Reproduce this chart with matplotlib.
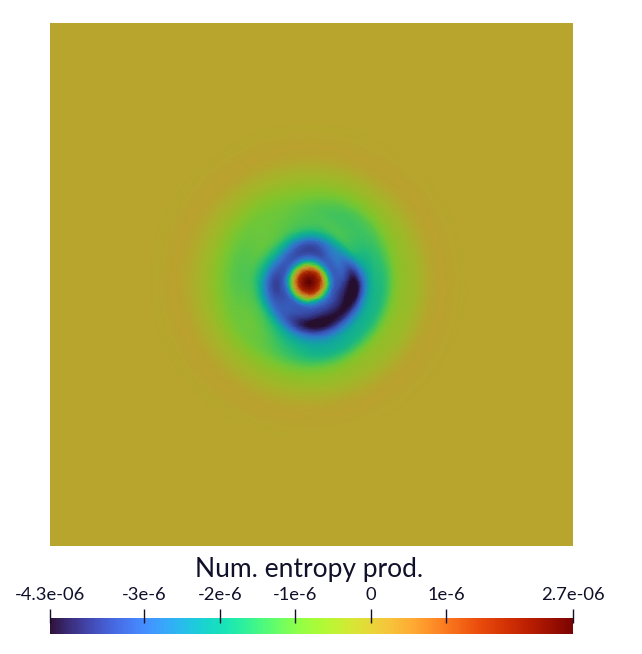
import numpy as np
import matplotlib
matplotlib.use('Agg')
import matplotlib.pyplot as plt
import matplotlib.tri as mtri
from matplotlib.colors import ListedColormap, Normalize
from matplotlib.cm import ScalarMappable

# colour bar range and labels
vmin = -4.25
vmax = 2.68
tick_vals = [-4.25, -3, -2, -1, 0, 1, 2.68]
tick_labels = ['-4.3e-06', '-3e-6', '-2e-6', '-1e-6', '0', '1e-6', '2.7e-06']
bar_title = 'Num. entropy prod.'

# field, units of 1e-6, one row per radius (pixels from
# the hot spot), one column per angle (degrees, counter clockwise from +x)
background = 0.05
radii = [0, 6, 12, 16, 20, 26, 33, 41, 50, 60, 72, 85, 100, 115, 130, 145, 165]
angles = [0, 30, 60, 90, 120, 150, 180, 210, 240, 270, 300, 330]
field = [
    [2.68, 2.68, 2.68, 2.68, 2.68, 2.68, 2.68, 2.68, 2.68, 2.68, 2.68, 2.68],
    [2.25, 2.25, 2.25, 2.25, 2.25, 2.25, 2.25, 2.25, 2.25, 2.25, 2.25, 2.25],
    [1.2, 1.2, 1.2, 1.2, 1.2, 1.2, 1.2, 1.2, 1.2, 1.2, 1.2, 1.2],
    [-0.3, -0.3, -0.3, -0.3, -0.3, -0.3, -0.3, -0.3, -0.3, -0.3, -0.3, -0.3],
    [-1.9, -1.9, -1.9, -1.9, -1.9, -1.9, -1.9, -1.9, -1.9, -1.9, -1.9, -1.9],
    [-3.2, -3.2, -3.2, -3.2, -3.2, -3.2, -3.2, -3.2, -3.2, -3.2, -3.2, -3.2],
    [-3.5, -3.0, -3.2, -3.6, -3.3, -3.2, -3.6, -3.4, -3.3, -3.6, -3.7, -3.7],
    [-4.2, -3.0, -2.7, -3.0, -2.5, -2.4, -3.0, -3.1, -3.4, -4.25, -4.25, -4.25],
    [-3.8, -2.2, -1.7, -1.8, -1.5, -1.5, -1.9, -2.0, -2.6, -3.5, -3.7, -3.8],
    [-2.2, -1.7, -1.3, -1.3, -1.1, -1.1, -1.3, -1.2, -1.7, -2.3, -2.4, -2.3],
    [-1.7, -1.5, -1.4, -1.2, -1.0, -1.1, -1.2, -1.0, -1.3, -1.8, -1.9, -1.8],
    [-0.9, -1.0, -1.1, -0.9, -0.85, -0.9, -0.9, -0.9, -0.95, -1.1, -1.0, -0.9],
    [-0.45, -0.45, -0.5, -0.45, -0.45, -0.45, -0.45, -0.45, -0.45, -0.5, -0.45, -0.45],
    [-0.15, -0.15, -0.15, -0.15, -0.15, -0.15, -0.15, -0.15, -0.15, -0.15, -0.15, -0.15],
    [0.08, 0.08, 0.08, 0.07, 0.08, 0.08, 0.07, 0.08, 0.08, 0.07, 0.08, 0.08],
    [0.05, 0.05, 0.05, 0.05, 0.05, 0.05, 0.05, 0.05, 0.05, 0.05, 0.05, 0.05],
    [0.05, 0.05, 0.05, 0.05, 0.05, 0.05, 0.05, 0.05, 0.05, 0.05, 0.05, 0.05],
]

W, H = 642, 654
fig = plt.figure(figsize=(W / 100, H / 100), dpi=100)
plt.rcParams['font.family'] = ['Lato', 'DejaVu Sans']
text_color = '#10102a'

# plot is dimmer than the bar (lighting in the renderer)
base = matplotlib.colormaps['turbo'](np.linspace(0, 1, 256))
dimmed = base.copy()
dimmed[:, :3] = dimmed[:, :3] * 0.78
plot_cmap = ListedColormap(dimmed)
norm = Normalize(vmin, vmax)

# main panel, in pixel coordinates of the figure
ax = fig.add_axes([50 / W, 1 - 546 / H, 523 / W, 523 / H])
ax.set_xlim(50, 573)
ax.set_ylim(546, 23)
ax.set_aspect('equal')
ax.set_facecolor(plot_cmap(norm(background)))
ax.set_xticks([])
ax.set_yticks([])
for s in ax.spines.values():
    s.set_visible(False)

# smooth the table in (angle, radius) space, wrapped so that 0 and 360 join,
# then bend the refined mesh round the hot spot
cx, cy = 309, 282
z = np.array(field)
wrap = 3
ang = np.array(angles, dtype=float)
ang_wrapped = np.concatenate([ang[-wrap:] - 360, ang, ang[:wrap + 1] + 360])
z_wrapped = np.concatenate([z[:, -wrap:], z, z[:, :wrap + 1]], axis=1)
aa, rr = np.meshgrid(ang_wrapped, radii)
tri = mtri.Triangulation(aa.ravel() / 3, rr.ravel())
interp = mtri.CubicTriInterpolator(tri, z_wrapped.ravel(), kind='min_E')
refiner = mtri.UniformTriRefiner(tri)
tri2, z2 = refiner.refine_field(z_wrapped.ravel(), triinterpolator=interp, subdiv=4)

a2 = np.radians(tri2.x * 3)
xs = cx + tri2.y * np.cos(a2)
ys = cy - tri2.y * np.sin(a2)
mid = tri2.x[tri2.triangles].mean(axis=1) * 3
keep = (mid >= 0) & (mid < 360)
polar = mtri.Triangulation(xs, ys, tri2.triangles[keep])
ax.tripcolor(polar, np.clip(z2, vmin, vmax), shading='gouraud', cmap=plot_cmap, norm=norm)

# colour bar
cax = fig.add_axes([50 / W, 1 - 634 / H, 523 / W, 16 / H])
sm = ScalarMappable(norm=norm, cmap='turbo')
cb = fig.colorbar(sm, cax=cax, orientation='horizontal', ticklocation='top')
cb.outline.set_visible(False)
cb.set_ticks(tick_vals)
cb.set_ticklabels(tick_labels)
cax.tick_params(axis='x', length=0, pad=11, labelsize=13.2, colors=text_color)
cax.vlines(tick_vals, 0.69, 1.56, color='#10102a', lw=1,
           transform=cax.get_xaxis_transform(), clip_on=False)
fig.text(309 / W, 1 - 569 / H, bar_title, ha='center', va='center',
         fontsize=19, color=text_color)

fig.savefig('out.png', dpi=100)
